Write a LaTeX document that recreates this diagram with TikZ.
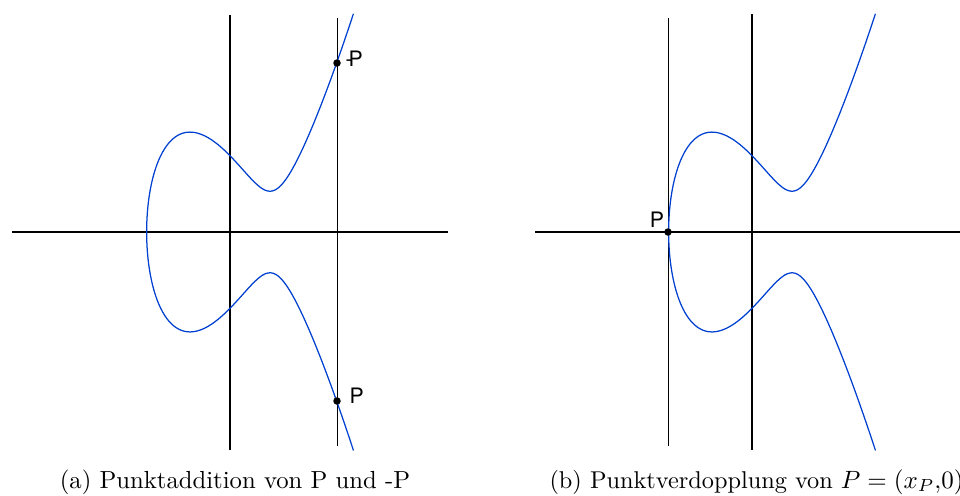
\documentclass[tikz,border=0pt]{standalone}
\usepackage{fontspec}
\newfontfamily\labfont{TeX Gyre Heros}
\definecolor{curveblue}{RGB}{0,64,208}
\tikzset{
  axis/.style={line width=0.8pt, black},
  vline/.style={line width=0.4pt, black},
  curve/.style={line width=0.5pt, curveblue},
  pt/.style={circle, fill=black, inner sep=0pt, minimum size=3pt},
  lab/.style={font=\labfont\fontsize{8.5}{10}\selectfont, inner sep=0pt},
  captext/.style={font=\fontsize{9.88}{12}\selectfont, inner sep=0pt}
}
\pgfmathdeclarefunction{cu}{1}{\pgfmathparse{#1*#1-2.084}}
\pgfmathdeclarefunction{cy}{1}{\pgfmathparse{45.6*#1*sqrt(cu(#1)*cu(#1)-2.084*cu(#1)+1.343)}}
\begin{document}
\begin{tikzpicture}[x=0.4pt,y=-0.4pt]
\useasboundingbox (0,0) rectangle (960,495);
\clip (0,0) rectangle (960,495);
% ---------- panel (a) ----------
\coordinate (aL) at (12,232);
\coordinate (aR) at (448,232);
\coordinate (aT) at (230,15);
\coordinate (aB) at (230,450);
\coordinate (vT) at (337,18);
\coordinate (vB) at (337,446);
\draw[axis] (aL) -- (aR);
\draw[axis] (aT) -- (aB);
\draw[vline] (vT) -- (vB);
\draw[curve] plot[domain=-2.274:2.274, samples=240, smooth, variable=\s]
  ({230+40*cu(\s)}, {232-cy(\s)});
\node[pt] (mP) at (337,63) {};
\node[pt] (pP) at (337,401) {};
\node[lab, anchor=west] (mPl) at (345,59) {-\kern-1.6pt P};
\node[lab, anchor=west] (pPl) at (349,396) {P};
\node[captext, anchor=base] (capa) at (235,488) {(a) Punktaddition von P und -P};
% ---------- panel (b) ----------
\coordinate (bL) at (535,232);
\coordinate (bR) at (965,232);
\coordinate (bT) at (752,14);
\coordinate (bB) at (752,450);
\coordinate (wT) at (668,18);
\coordinate (wB) at (668,446);
\draw[axis] (bL) -- (bR);
\draw[axis] (bT) -- (bB);
\draw[vline] (wT) -- (wB);
\draw[curve] plot[domain=-2.274:2.274, samples=240, smooth, variable=\s]
  ({752+40*cu(\s)}, {232-cy(\s)});
\node[pt] (P) at (668,232) {};
\node[lab] (Pl) at (657,220) {P};
\node[captext, font=\fontsize{9.72}{12}\selectfont, anchor=base west] (capb) at (549,488) {(b) Punktverdopplung von $P=(x_P{,}0)$};
\end{tikzpicture}
\end{document}
